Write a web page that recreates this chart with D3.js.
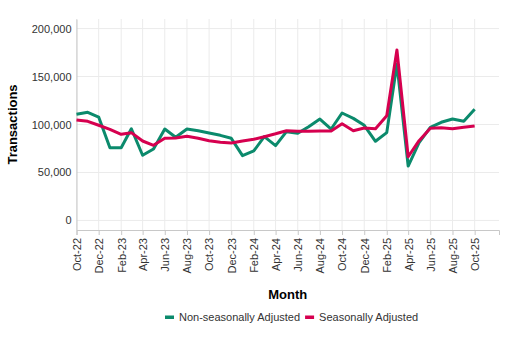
<!DOCTYPE html>
<html>
<head>
<meta charset="utf-8">
<script src="https://cdn.jsdelivr.net/npm/d3@7"></script>
<style>
  html, body { margin: 0; padding: 0; background: #fff; }
  svg { display: block; font-family: "Liberation Sans", Arial, sans-serif; }
</style>
</head>
<body>
<svg id="chart" width="513" height="345"></svg>
<script>
const months = ["Oct-22","Nov-22","Dec-22","Jan-23","Feb-23","Mar-23","Apr-23","May-23","Jun-23","Jul-23","Aug-23","Sep-23","Oct-23","Nov-23","Dec-23","Jan-24","Feb-24","Mar-24","Apr-24","May-24","Jun-24","Jul-24","Aug-24","Sep-24","Oct-24","Nov-24","Dec-24","Jan-25","Feb-25","Mar-25","Apr-25","May-25","Jun-25","Jul-25","Aug-25","Sep-25","Oct-25"];
const nonSeasonal = [110600,112700,107800,75800,75800,95600,67900,74500,95300,86700,95300,93500,91100,88700,85600,67500,72400,87300,78000,92500,90800,97700,105700,95300,112000,106400,99200,82500,91500,163000,56700,81000,97100,102300,105700,103300,115800];
const seasonal = [104700,103300,99200,95000,89800,91500,82800,78300,85600,86000,87700,85600,83100,81400,80700,82800,84600,87300,90300,93500,92900,92900,93200,93200,100800,93500,96300,95600,109200,177700,66400,83100,96000,96600,95600,97100,98400];
const yTicks = [0, 50000, 100000, 150000, 200000];
const seriesNames = ["Non-seasonally Adjusted", "Seasonally Adjusted"];
const seriesColors = ["#0b8a6c", "#d6004f"];

(function () {
const parse = d3.timeParse("%b-%y");
const fmtMonth = d3.timeFormat("%b-%y");
const dates = months.map(parse);

const svg = d3.select("#chart");
const mLeft = 76.5, mRight = 499, mTop = 19, mBottom = 230;

const x = d3.scaleTime()
  .domain([dates[0], new Date(2025, 11, 7)])
  .range([mLeft, mRight]);
const y = d3.scaleLinear()
  .domain([-10000, 210000])
  .range([mBottom, mTop]);

const xTickDates = dates.filter((d, i) => i % 2 === 0);

// gridlines
const grid = svg.append("g");
grid.selectAll("line.hx").data(yTicks).enter().append("line")
  .attr("x1", mLeft).attr("x2", mRight)
  .attr("y1", d => y(d)).attr("y2", d => y(d))
  .attr("stroke", "#ebebeb").attr("stroke-width", 1);
grid.selectAll("line.vx").data(xTickDates).enter().append("line")
  .attr("x1", d => x(d)).attr("x2", d => x(d))
  .attr("y1", mTop).attr("y2", mBottom)
  .attr("stroke", "#ebebeb").attr("stroke-width", 1);

// x axis
const xAxis = svg.append("g")
  .attr("transform", `translate(0,${mBottom})`)
  .call(d3.axisBottom(x).tickValues(xTickDates).tickFormat(fmtMonth).tickSize(5).tickPadding(3));
xAxis.select(".domain").attr("stroke", "#c8c8c8");
xAxis.selectAll(".tick line").attr("stroke", "#c8c8c8");
xAxis.selectAll(".tick text")
  .attr("font-size", 11).attr("fill", "#333")
  .attr("font-family", "Liberation Sans, Arial, sans-serif")
  .attr("transform", "rotate(-90)")
  .attr("text-anchor", "end")
  .attr("x", -8).attr("y", 0).attr("dy", "0.35em");

// y axis
const yAxis = svg.append("g")
  .attr("transform", `translate(${mLeft},0)`)
  .call(d3.axisLeft(y).tickValues(yTicks).tickFormat(d3.format(",")).tickSize(0).tickPadding(5));
yAxis.select(".domain").attr("stroke", "#c8c8c8");
yAxis.selectAll(".tick text")
  .attr("font-size", 11).attr("fill", "#333")
  .attr("font-family", "Liberation Sans, Arial, sans-serif");

// lines
const line = d3.line()
  .x((d, i) => x(dates[i]))
  .y(d => y(d));
[nonSeasonal, seasonal].forEach((s, k) => {
  svg.append("path")
    .datum(s)
    .attr("d", line)
    .attr("fill", "none")
    .attr("stroke", seriesColors[k])
    .attr("stroke-width", 3)
    .attr("stroke-linejoin", "round");
});

// axis titles
svg.append("text")
  .attr("transform", `translate(17,${(mTop + mBottom) / 2}) rotate(-90)`)
  .attr("text-anchor", "middle")
  .attr("font-size", 13).attr("font-weight", "bold").attr("fill", "#000")
  .text("Transactions");
svg.append("text")
  .attr("x", (mLeft + mRight) / 2).attr("y", 299)
  .attr("text-anchor", "middle")
  .attr("font-size", 13).attr("font-weight", "bold").attr("fill", "#000")
  .text("Month");

// legend
const legend = svg.append("g").attr("transform", "translate(165,317)");
let lx = 0;
seriesNames.forEach((name, k) => {
  const g = legend.append("g").attr("transform", `translate(${lx},0)`);
  g.append("rect").attr("x", 0).attr("y", -1.5).attr("width", 9).attr("height", 3.5)
    .attr("fill", seriesColors[k]);
  const t = g.append("text").attr("x", 14).attr("y", 4)
    .attr("font-size", 11).attr("fill", "#333")
    .text(name);
  lx += 14 + t.node().getComputedTextLength() + 5;
});
})();
</script>
</body>
</html>
